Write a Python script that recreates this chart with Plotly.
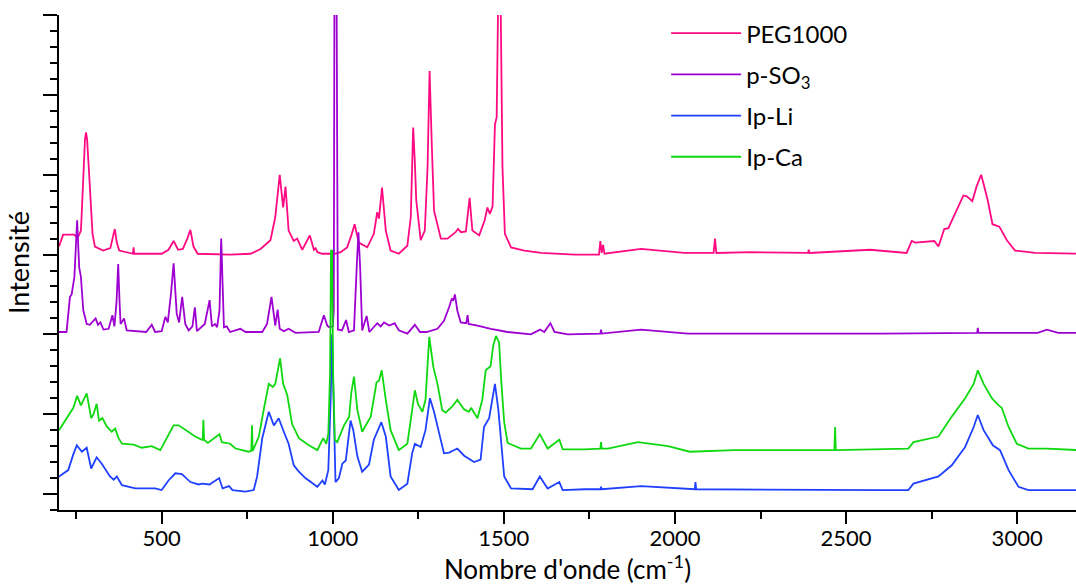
import plotly.graph_objects as go

# ---------------- data (wavenumber cm-1, stacked intensity a.u.) ----------------
peg_x = [200, 212, 244, 254, 258, 264, 266, 271, 276, 279, 282, 287, 294, 298, 305, 329, 350, 357, 363, 369, 376,
         416, 418, 420, 450, 500, 520, 535, 548, 562, 575, 584, 593, 605, 700, 760, 789,
         818, 832, 845, 855, 862, 871, 886, 896, 911, 933, 945, 950, 955, 970, 1005, 1023,
         1042, 1055, 1064, 1076, 1101, 1120, 1130, 1135, 1144, 1155, 1169, 1193, 1218, 1228,
         1235, 1240, 1244, 1257, 1269, 1277, 1283, 1289, 1296, 1316, 1335, 1359, 1366, 1375,
         1389, 1400, 1408, 1428, 1444, 1452, 1459, 1467, 1474, 1479, 1484, 1490, 1496, 1503,
         1521, 1560, 1609, 1707, 1778, 1782, 1786, 1790, 1794, 1901, 2027, 2113, 2117, 2121,
         2223, 2389, 2391, 2393, 2570, 2677, 2692, 2702, 2758, 2770, 2787, 2799, 2814, 2843,
         2853, 2869, 2882, 2895, 2904, 2914, 2928, 2948, 2970, 2994, 3053, 3178]
peg_y = [3.10, 3.25, 3.25, 3.21, 3.24, 3.30, 3.47, 4.09, 4.45, 4.53, 4.45, 4.09, 3.47, 3.26, 3.10, 3.05, 3.08, 3.20, 3.32, 3.15, 3.05,
         3.01, 3.09, 3.01, 3.01, 3.01, 3.06, 3.17, 3.06, 3.07, 3.20, 3.31, 3.10, 3.01, 3.00, 3.01, 3.07,
         3.18, 3.47, 4.00, 3.59, 3.85, 3.30, 3.17, 3.20, 3.06, 3.24, 3.06, 3.08, 3.03, 3.01, 3.01, 3.03,
         3.09, 3.25, 3.38, 3.15, 3.09, 3.26, 3.53, 3.45, 3.84, 3.30, 3.05, 3.01, 3.11, 3.47,
         4.59, 4.15, 3.68, 3.18, 3.30, 4.09, 5.30, 4.43, 3.55, 3.20, 3.20, 3.28, 3.32, 3.28,
         3.29, 3.71, 3.30, 3.24, 3.43, 3.59, 3.51, 3.60, 4.63, 4.72, 6.40, 6.40, 4.09, 3.26,
         3.09, 3.05, 3.02, 3.00, 3.00, 3.17, 3.02, 3.12, 3.01, 3.07, 3.02, 3.02, 3.20, 3.02,
         3.03, 3.02, 3.06, 3.02, 3.06, 3.02, 3.17, 3.15, 3.17, 3.10, 3.32, 3.33, 3.47, 3.74,
         3.73, 3.67, 3.86, 4.00, 3.85, 3.68, 3.38, 3.35, 3.18, 3.05, 3.02, 3.01]

pso3_x = [200, 222, 232, 237, 245, 253, 259, 264, 271, 281, 290, 307, 314, 321, 330, 345, 356,
          362, 368, 373, 377, 380, 390, 398, 455, 471, 481, 500, 511, 518, 527, 535, 544, 551,
          560, 569, 579, 590, 597, 603, 626, 640, 647, 656, 662, 669, 674, 679, 682, 690, 700,
          730, 745, 794, 808, 821, 832, 839, 845, 857, 871, 891, 959, 974, 984, 990, 1000,
          1003, 1005, 1011, 1013, 1015, 1027, 1039, 1047, 1062, 1070, 1075, 1080, 1086, 1099,
          1107, 1130, 1140, 1150, 1165, 1181, 1193, 1218, 1240, 1255, 1274, 1306, 1325, 1340,
          1348, 1352, 1357, 1364, 1374, 1390, 1394, 1397, 1423, 1462, 1511, 1579, 1606, 1618,
          1636, 1648, 1687, 1782, 1784, 1786, 1901, 2038, 2604, 2883, 2885, 2887, 3060, 3087,
          3120, 3178]
pso3_y = [2.03, 2.03, 2.47, 2.50, 2.72, 3.43, 2.84, 2.72, 2.30, 2.13, 2.12, 2.20, 2.12, 2.15, 2.06, 2.07, 2.24,
          2.10, 2.40, 2.88, 2.40, 2.13, 2.20, 2.05, 2.03, 2.12, 2.03, 2.04, 2.22, 2.15, 2.50, 2.89, 2.26, 2.15,
          2.47, 2.13, 2.05, 2.10, 2.34, 2.04, 2.13, 2.43, 2.10, 2.13, 2.09, 2.30, 3.20, 2.30, 2.09, 2.10, 2.03,
          2.07, 2.03, 2.03, 2.13, 2.47, 2.11, 2.31, 2.07, 2.04, 2.07, 2.02, 2.03, 2.24, 2.11, 2.09, 2.10,
          2.30, 6.50, 6.50, 2.30, 2.06, 2.05, 2.18, 2.03, 2.05, 2.84, 3.28, 2.84, 2.05, 2.23,
          2.03, 2.14, 2.10, 2.15, 2.11, 2.14, 2.05, 2.01, 2.12, 2.03, 2.03, 2.07, 2.17, 2.34,
          2.45, 2.42, 2.50, 2.30, 2.15, 2.14, 2.24, 2.13, 2.11, 2.07, 2.03, 2.00, 2.06, 2.03,
          2.14, 2.03, 2.00, 2.01, 2.06, 2.01, 2.06, 2.01, 2.01, 2.02, 2.08, 2.02, 2.02, 2.06,
          2.02, 2.02]

li_x = [200, 227, 242, 252, 267, 281, 294, 310, 325, 349, 360, 369, 384, 423, 481, 500, 520,
        540, 559, 584, 608, 618, 640, 668, 678, 697, 707, 745, 769, 779, 794, 813, 828, 842,
        857, 871, 886, 901, 920, 955, 970, 977, 987, 994, 998, 1002, 1008, 1018, 1028, 1038,
        1044, 1052, 1060, 1072, 1086, 1106, 1120, 1142, 1155, 1169, 1193, 1218, 1232, 1240,
        1257, 1271, 1284, 1296, 1311, 1325, 1340, 1364, 1384, 1413, 1432, 1442, 1457, 1474,
        1484, 1493, 1501, 1521, 1584, 1605, 1628, 1662, 1672, 1736, 1782, 1784, 1786, 1901,
        2038, 2058, 2060, 2062, 2604, 2682, 2697, 2770, 2809, 2848, 2873, 2885, 2902, 2929,
        2950, 2975, 3004, 3033, 3178]
li_y = [0.22, 0.30, 0.50, 0.61, 0.53, 0.58, 0.32, 0.46, 0.38, 0.22, 0.18, 0.22, 0.11, 0.07, 0.07, 0.05, 0.17,
        0.26, 0.25, 0.15, 0.12, 0.13, 0.12, 0.20, 0.07, 0.10, 0.05, 0.03, 0.05, 0.22, 0.70, 1.03, 0.86, 0.95,
        0.78, 0.63, 0.36, 0.28, 0.20, 0.09, 0.17, 0.12, 0.30, 1.20, 2.00, 1.20, 0.15, 0.20, 0.38, 0.42,
        0.63, 0.92, 0.80, 0.47, 0.28, 0.37, 0.68, 0.90, 0.72, 0.22, 0.05, 0.13, 0.51, 0.63,
        0.59, 0.80, 1.20, 1.03, 0.76, 0.51, 0.52, 0.57, 0.48, 0.40, 0.43, 0.84, 0.95, 1.38,
        1.05, 0.55, 0.22, 0.07, 0.06, 0.22, 0.07, 0.15, 0.05, 0.06, 0.06, 0.09, 0.06, 0.10,
        0.06, 0.06, 0.15, 0.06, 0.05, 0.05, 0.13, 0.22, 0.36, 0.59, 0.84, 0.99, 0.80, 0.61,
        0.55, 0.30, 0.09, 0.05, 0.05]

ca_x = [200, 227, 242, 253, 264, 281, 294, 301, 310, 317, 327, 339, 354, 364, 374, 384, 418,
        442, 471, 496, 515, 535, 550, 569, 598, 618, 620, 622, 624, 635, 669, 676, 700, 716,
        754, 762, 764, 766, 784, 798, 813, 825, 832, 846, 855, 867, 881, 901, 930, 955, 972,
        981, 987, 992, 995, 998, 1001, 1006, 1013, 1033, 1048, 1054, 1062, 1072, 1086, 1111,
        1128, 1135, 1143, 1155, 1169, 1193, 1218, 1232, 1240, 1249, 1262, 1271, 1282, 1294,
        1306, 1320, 1330, 1350, 1364, 1384, 1398, 1404, 1418, 1423, 1437, 1447, 1461, 1469,
        1477, 1486, 1493, 1501, 1511, 1550, 1579, 1605, 1628, 1662, 1672, 1736, 1782, 1784,
        1786, 1804, 1892, 1980, 2043, 2174, 2466, 2468, 2470, 2604, 2682, 2697, 2770, 2809,
        2848, 2873, 2885, 2902, 2926, 2946, 2955, 2975, 2999, 3033, 3087, 3178]
ca_y = [0.80, 0.99, 1.08, 1.23, 1.11, 1.26, 0.95, 1.00, 1.13, 0.92, 0.95, 0.85, 0.78, 0.82, 0.70, 0.63, 0.62,
        0.58, 0.60, 0.55, 0.70, 0.86, 0.86, 0.80, 0.72, 0.68, 0.68, 0.93, 0.68, 0.64, 0.75, 0.65, 0.63, 0.57,
        0.53, 0.54, 0.86, 0.54, 0.72, 1.05, 1.38, 1.34, 1.38, 1.70, 1.38, 1.24, 0.88, 0.70, 0.61, 0.55, 0.70,
        0.63, 0.75, 1.50, 3.05, 3.05, 1.50, 0.68, 0.65, 0.86, 0.97, 1.26, 1.47, 1.05, 0.78, 0.97,
        1.40, 1.42, 1.55, 1.18, 0.80, 0.55, 0.63, 1.05, 1.30, 1.13, 1.03, 1.18, 1.97, 1.59,
        1.38, 1.05, 1.02, 1.10, 1.18, 1.06, 1.03, 1.08, 0.98, 0.95, 1.18, 1.55, 1.60, 1.86,
        1.98, 1.90, 1.38, 0.90, 0.64, 0.57, 0.57, 0.75, 0.57, 0.68, 0.56, 0.56, 0.57, 0.65,
        0.57, 0.57, 0.65, 0.60, 0.53, 0.55, 0.55, 0.84, 0.55, 0.56, 0.57, 0.65, 0.72, 0.97,
        1.20, 1.38, 1.55, 1.38, 1.20, 1.11, 1.08, 0.84, 0.63, 0.57, 0.57, 0.55]

series_names = ["PEG1000", "p-SO<sub>3</sub>", "Ip-Li", "Ip-Ca"]
series_x = [peg_x, pso3_x, li_x, ca_x]
series_y = [peg_y, pso3_y, li_y, ca_y]
series_colors = ["#ff0a82", "#9e00d2", "#2040ff", "#10d810"]

x_range = [200, 3172]
y_range = [-0.2, 6.001]
x_title = "Nombre d'onde (cm<sup>-1</sup>)"
y_title = "Intensité"

# ---------------- figure ----------------
FONT = "Lato, 'Open Sans', sans-serif"
fig = go.Figure()
for i, (nm, xs, ys, c) in enumerate(zip(series_names, series_x, series_y, series_colors)):
    fig.add_trace(go.Scatter(x=xs, y=ys, mode="lines", name=nm, legendgroup=f"g{i}",
                             line=dict(color=c, width=1.8)))

fig.update_layout(
    width=1076, height=585,
    margin=dict(l=59, r=0, t=15, b=75, autoexpand=False),
    plot_bgcolor="white", paper_bgcolor="white",
    font=dict(family=FONT, size=22, color="black"),
    showlegend=True,
    legend=dict(x=0.597, y=1.008, xanchor="left", yanchor="top",
                font=dict(size=24, color="black"), bgcolor="rgba(0,0,0,0)",
                tracegroupgap=7, itemwidth=70),
)
fig.update_xaxes(
    range=x_range, showgrid=False, zeroline=False, automargin=False,
    showline=True, linecolor="black", linewidth=2,
    ticks="outside", ticklen=12, tickwidth=2, tickcolor="black",
    tick0=0, dtick=500, tickfont=dict(size=22), ticklabelstandoff=-4,
    minor=dict(ticks="outside", dtick=250, tick0=0, ticklen=7, tickwidth=2, tickcolor="black"),
    title=dict(text=x_title, font=dict(size=26), standoff=4),
)
fig.update_yaxes(
    range=y_range, showgrid=False, zeroline=False, automargin=False,
    showline=True, linecolor="black", linewidth=2,
    ticks="outside", ticklen=14, tickwidth=2, tickcolor="black",
    tick0=0, dtick=1, showticklabels=False,
    minor=dict(ticks="outside", dtick=0.2, tick0=0, ticklen=7, tickwidth=2, tickcolor="black"),
    title=dict(text=y_title, font=dict(size=27), standoff=6),
)

fig.write_html("out.html", config={"displayModeBar": False},
               post_script="document.body.style.margin='0';document.body.style.overflow='hidden';")
